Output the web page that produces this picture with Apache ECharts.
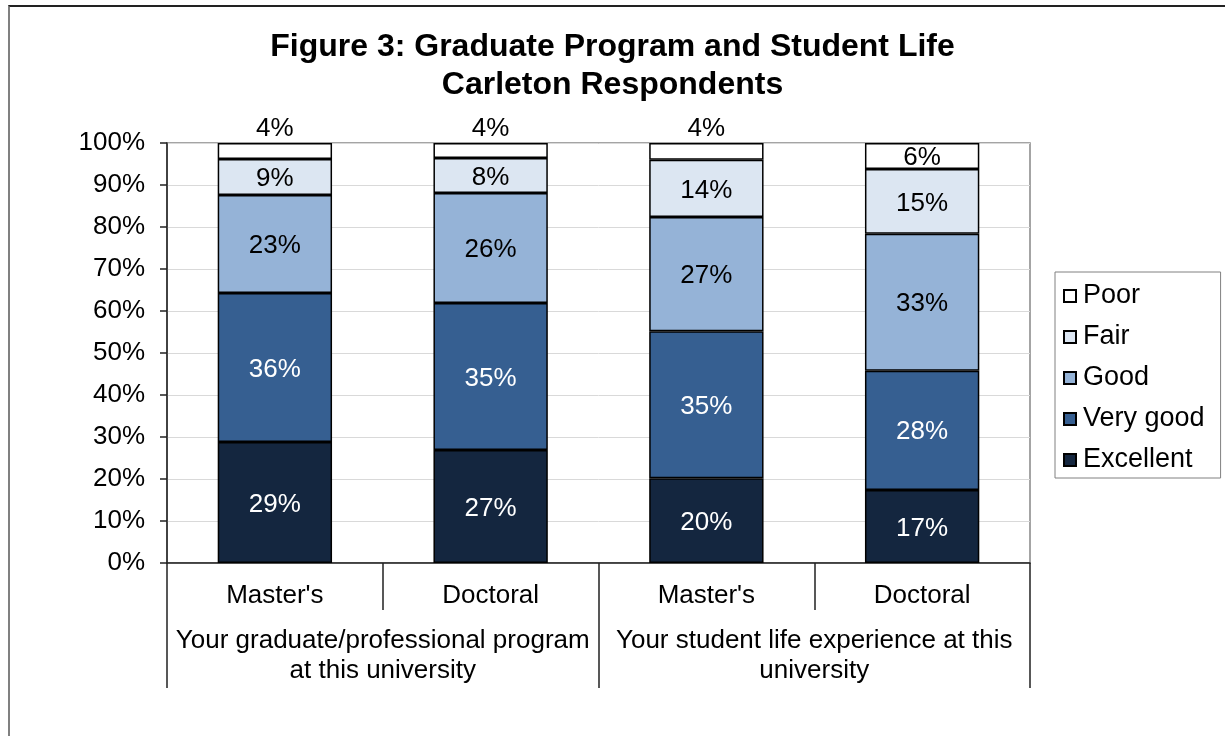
<!DOCTYPE html>
<html>
<head>
<meta charset="utf-8">
<script src="https://cdn.jsdelivr.net/npm/echarts@6/dist/echarts.min.js"></script>
<style>
  body { margin: 0; background: #fff; }
  #frame {
    position: absolute; left: 8px; top: 5px; width: 1240px; height: 760px;
    border-left: 2px solid #808080; border-top: 2px solid #222;
  }
  #main { position: absolute; left: 0; top: 0; width: 1225px; height: 736px; }
</style>
</head>
<body>
<div id="frame"></div>
<div id="main"></div>
<script>
// categories (bottom level) and groups (second level)
var categories = ["Master's", 'Doctoral', "Master's", 'Doctoral']
var groups = ['Your graduate/professional program\nat this university', 'Your student life experience at this\nuniversity']
var yTicks = [0, 10, 20, 30, 40, 50, 60, 70, 80, 90, 100]

// percentages per rating
var excellent = [28.8, 26.9, 20.2, 17.4]
var veryGood = [35.5, 35.0, 35.0, 28.4]
var good = [23.3, 26.2, 27.2, 32.6]
var fair = [8.6, 8.3, 13.6, 15.4]
var poor = [3.8, 3.6, 4.0, 6.2]

var names = ['Excellent', 'Very good', 'Good', 'Fair', 'Poor']
var values = [excellent, veryGood, good, fair, poor]
var colors = ['#14263f', '#365f91', '#95b3d7', '#dce6f2', '#ffffff']
var labelColors = ['#fff', '#fff', '#000', '#000', '#000']

var font = 'Liberation Sans, Arial, sans-serif'
var fs = 26

let myChart = echarts.init(document.getElementById('main'))

var series = names.map(function(name, i) {
  return {
    name: name,
    type: 'bar',
    stack: 'total',
    xAxisIndex: 0,
    barWidth: '53%',
    itemStyle: { color: colors[i], borderColor: '#000', borderWidth: 1.5 },
    label: {
      show: true,
      position: 'inside',
      offset: [0, 2],
      color: labelColors[i],
      fontSize: fs,
      fontFamily: font,
      formatter: function(p) { return Math.round(p.value) + '%' }
    },
    data: values[i].map(function(v) {
      // small top segments carry their label above the bar
      if (name === 'Poor' && v < 5) {
        return { value: v, label: { position: 'top', distance: 1, offset: [0, 0] } }
      }
      return v
    })
  }
})

let option = {
  animation: false,
  textStyle: { fontFamily: font },
  title: {
    text: 'Figure 3: Graduate Program and Student Life\nCarleton Respondents',
    left: 'center',
    top: 23,
    textStyle: { fontSize: 32, fontWeight: 'bold', color: '#000', lineHeight: 38, fontFamily: font }
  },
  legend: {
    orient: 'vertical',
    left: 1055,
    top: 272,
    padding: [10, 16, 4, 8],
    borderColor: '#808080',
    borderWidth: 1,
    itemWidth: 12,
    itemHeight: 12,
    itemGap: 13,
    icon: 'rect',
    textStyle: { fontSize: 27, lineHeight: 28, color: '#000', fontFamily: font, padding: [0, 0, 0, 2] },
    data: names.slice().reverse()
  },
  grid: {
    left: 167, right: 195, top: 143, bottom: 173,
    show: true, borderColor: '#868686', borderWidth: 1.5
  },
  xAxis: [
    {
      type: 'category',
      position: 'bottom',
      data: categories,
      axisLine: { show: true, lineStyle: { color: '#222', width: 1.5 } },
      axisTick: { show: true, length: 47, interval: 0, lineStyle: { color: '#222', width: 1.5 } },
      axisLabel: { fontSize: fs, color: '#000', margin: 20, interval: 0, fontFamily: font }
    },
    {
      type: 'category',
      position: 'bottom',
      data: groups,
      axisLine: { show: false },
      axisTick: { show: true, length: 125, interval: 0, lineStyle: { color: '#222', width: 1.5 } },
      axisLabel: { fontSize: fs, color: '#000', margin: 63, lineHeight: 30, interval: 0, fontFamily: font }
    }
  ],
  yAxis: {
    type: 'value',
    min: yTicks[0],
    max: yTicks[yTicks.length - 1],
    interval: 10,
    axisLine: { show: true, lineStyle: { color: '#222', width: 1.5 } },
    axisTick: { show: true, length: 7, lineStyle: { color: '#222', width: 1.5 } },
    axisLabel: { fontSize: fs, color: '#000', margin: 22, formatter: '{value}%', fontFamily: font },
    splitLine: { lineStyle: { color: '#d9d9d9', width: 1 } }
  },
  series: series
}

myChart.setOption(option)
</script>
</body>
</html>
